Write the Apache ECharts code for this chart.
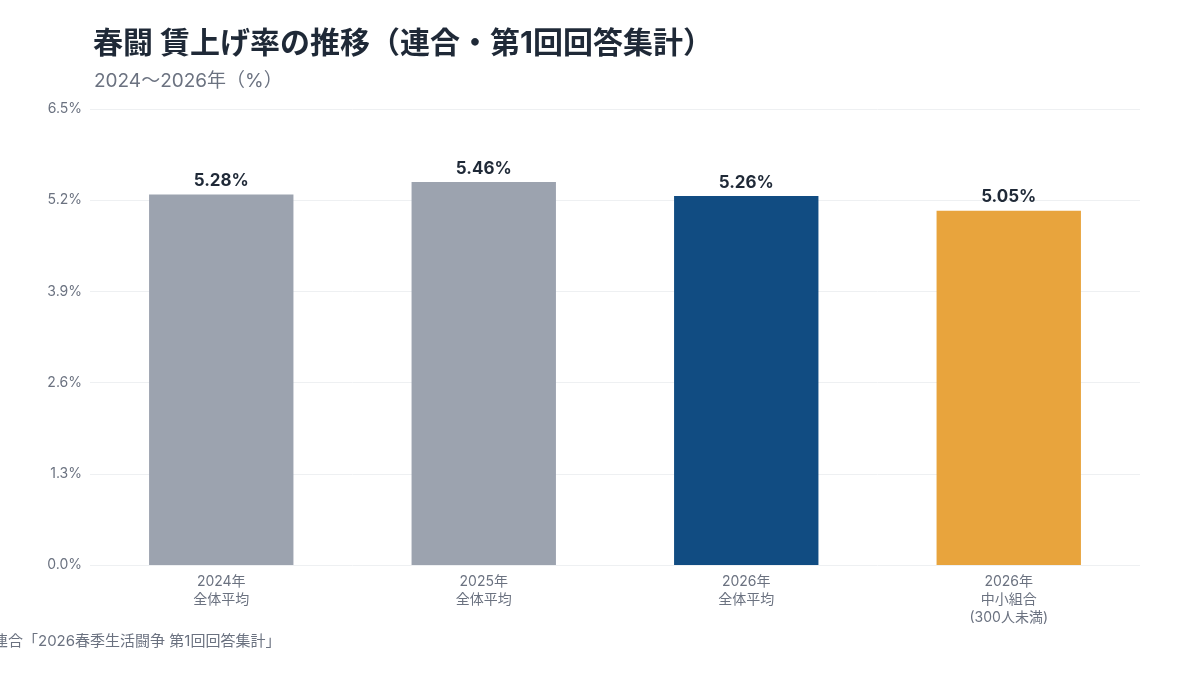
<!DOCTYPE html>
<html><head><meta charset="utf-8">
<script src="https://cdn.jsdelivr.net/npm/echarts@6/dist/echarts.min.js"></script>
<style>html,body{margin:0;padding:0;background:#fff}#c{width:1200px;height:675px}</style>
</head><body><div id="c"></div>
<script>
const categories = ["2024年\n全体平均", "2025年\n全体平均", "2026年\n全体平均", "2026年\n中小組合\n(300人未満)"];
const values = [5.28, 5.46, 5.26, 5.05];
const barColors = ["#9CA3AF", "#9CA3AF", "#114C82", "#E8A43D"];
const titleText = "春闘 賃上げ率の推移（連合・第1回回答集計）";
const subtitleText = "2024〜2026年（%）";
const sourceText = "出典：連合「2026春季生活闘争 第1回回答集計」";
const FONT = "Inter, 'Noto Sans CJK JP', sans-serif";

const chart = echarts.init(document.getElementById('c'));
chart.setOption({
  backgroundColor: '#fff',
  animation: false,
  title: [
    { text: titleText, left: 88, top: 24, textStyle: { fontFamily: FONT, fontSize: 30, fontWeight: 'bold', color: '#1F2937' } },
    { text: subtitleText, left: 89, top: 67, textStyle: { fontFamily: FONT, fontSize: 19, fontWeight: 'normal', color: '#6B7280' } }
  ],
  graphic: [
    { type: 'text', left: -52, top: 634, style: { text: sourceText, font: "15px " + FONT, fill: '#6B7280' } }
  ],
  grid: { left: 90, right: 60, top: 109, bottom: 110, containLabel: false },
  xAxis: {
    type: 'category', data: categories,
    axisLine: { show: false }, axisTick: { show: false },
    axisLabel: { fontFamily: FONT, fontSize: 14, color: '#6B7280', lineHeight: 18, margin: 8 }
  },
  yAxis: {
    type: 'value', min: 0, max: 6.5, interval: 1.3,
    axisLine: { show: false }, axisTick: { show: false },
    axisLabel: { fontFamily: FONT, fontSize: 14, color: '#6B7280', margin: 8, formatter: v => v.toFixed(1) + '%' },
    splitLine: { lineStyle: { color: '#EEF0F2', width: 1 } }
  },
  series: [{
    type: 'bar', barWidth: '55%',
    data: values.map((v, i) => ({ value: v, itemStyle: { color: barColors[i] } })),
    label: { show: true, position: 'top', distance: 5, fontFamily: FONT, fontSize: 17, fontWeight: 'bold', color: '#1F2937', formatter: p => p.value.toFixed(2) + '%' }
  }]
});
</script></body></html>
